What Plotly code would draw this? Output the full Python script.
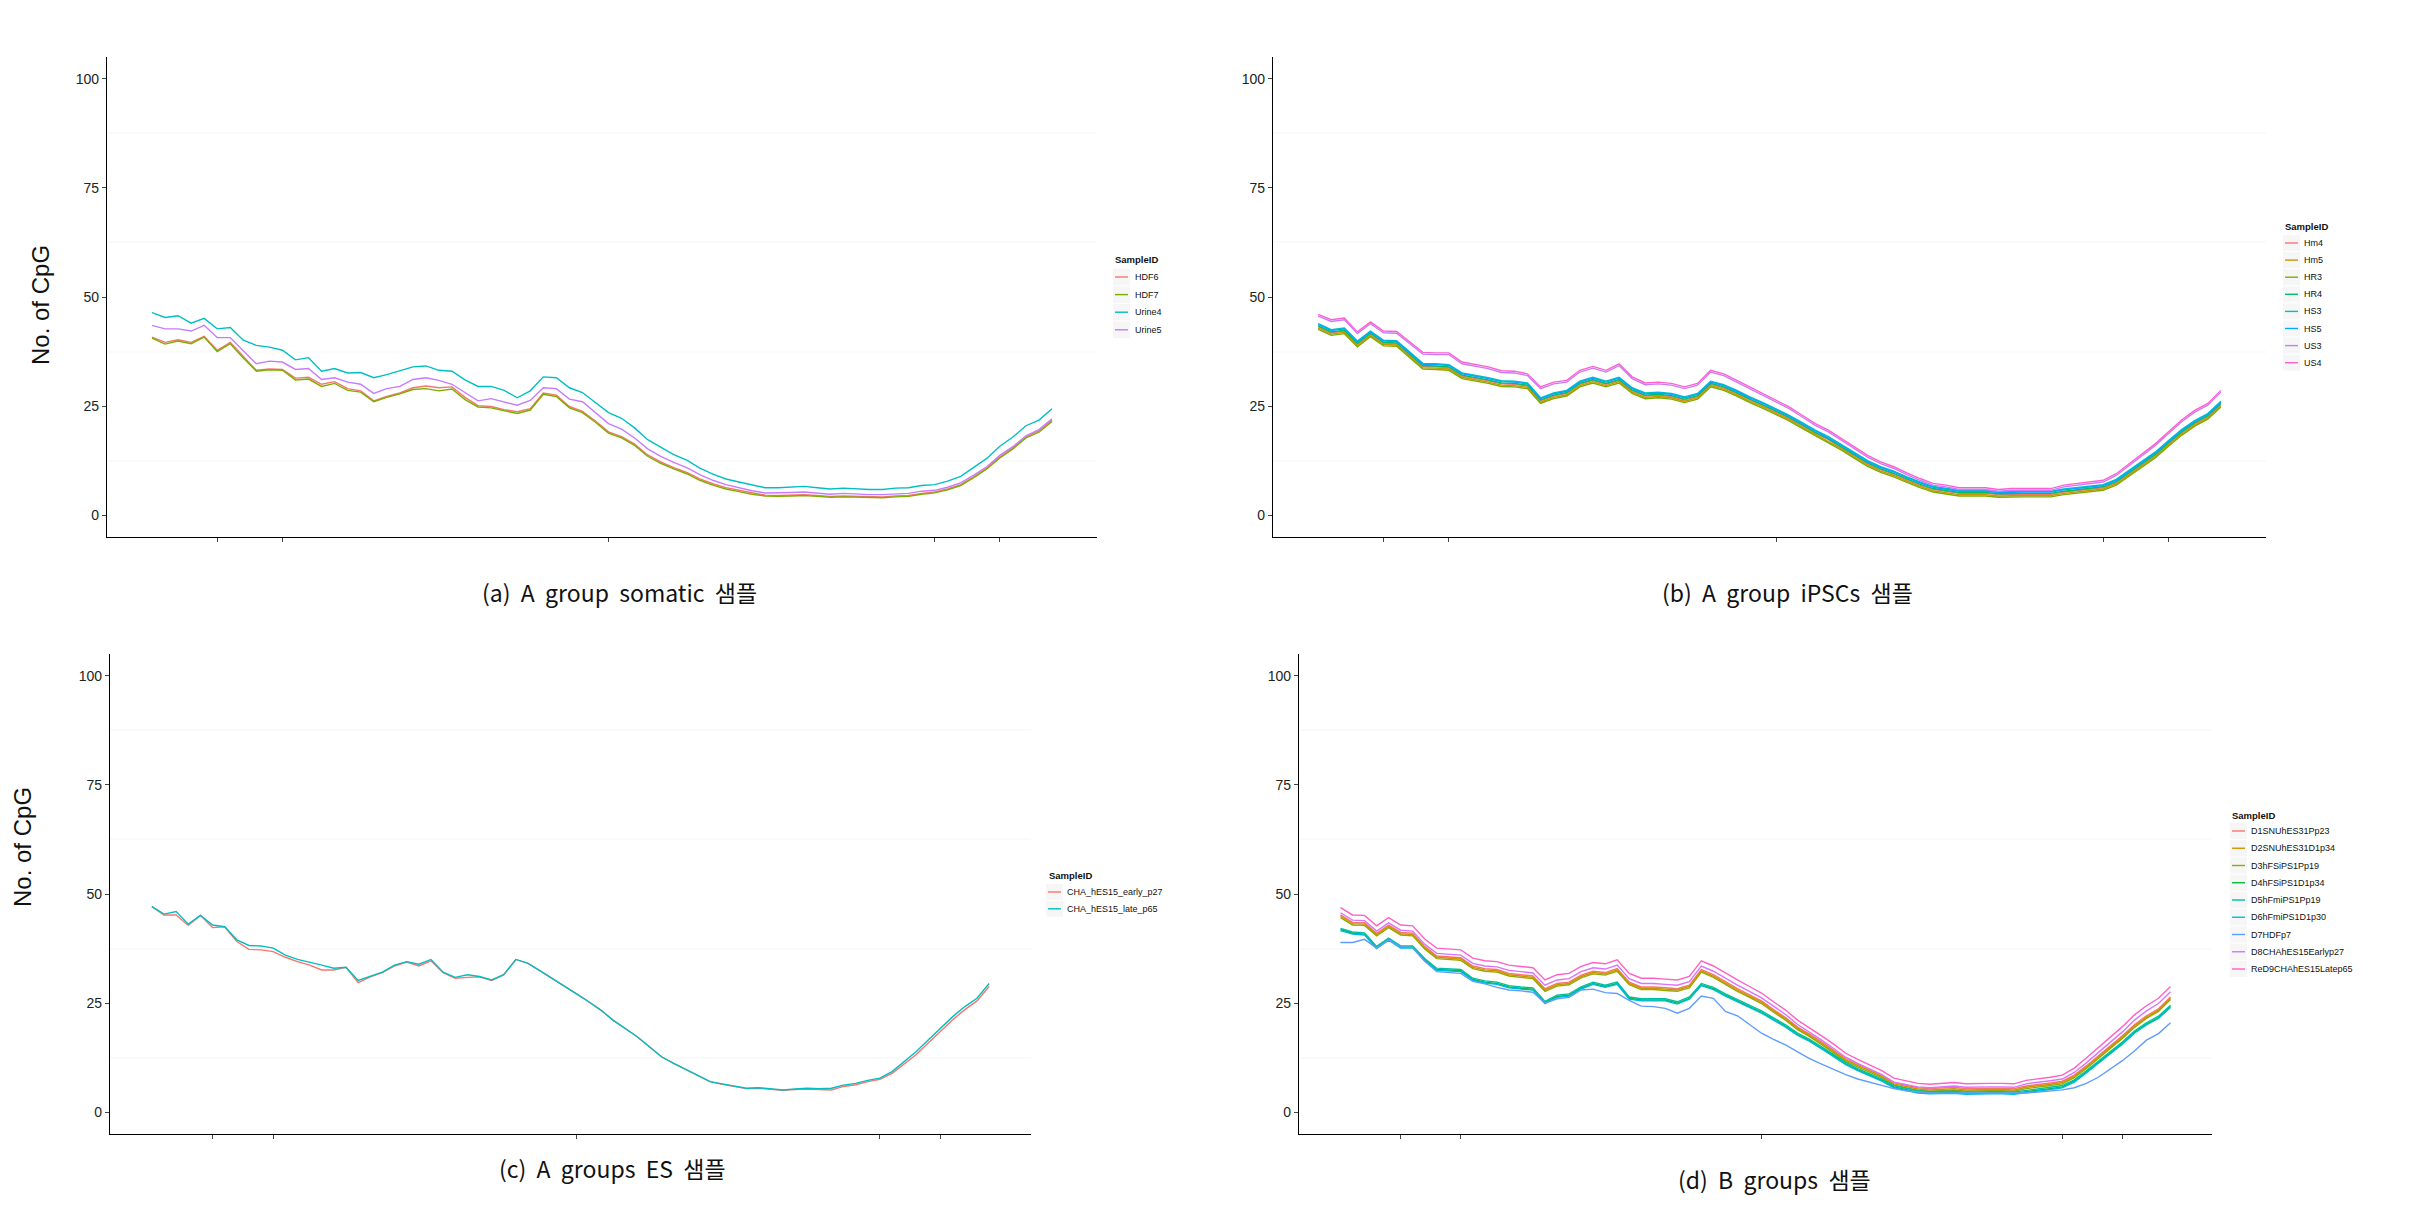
import plotly.graph_objects as go

PAGE_W, PAGE_H = 2423, 1207
OFF = 8                      # default body margin of the html page
W, H = PAGE_W - 2 * OFF, PAGE_H - 2 * OFF

# ---------------- data ----------------
x_index = list(range(70))
x_tick_positions = [5, 10, 35, 60, 65]
y_tick_values = [0, 25, 50, 75, 100]
y_tick_labels = ["0", "25", "50", "75", "100"]
y_minor_grid = [12.5, 37.5, 62.5, 87.5]

# (a) A group somatic
a_names = ["HDF6", "HDF7", "Urine4", "Urine5"]
a_HDF6 = [40.8,39.6,40.2,39.6,41.0,37.8,39.6,36.5,33.2,33.5,33.4,31.4,31.6,30.0,30.6,29.0,28.5,26.2,27.2,28.0,29.2,29.6,29.2,29.4,27.0,25.1,24.9,24.2,23.7,24.4,28.0,27.5,24.9,23.8,21.6,19.1,18.0,16.3,13.8,12.2,10.9,9.8,8.3,7.2,6.3,5.7,5.1,4.6,4.5,4.6,4.7,4.5,4.3,4.4,4.3,4.2,4.2,4.4,4.5,5.0,5.3,6.0,7.0,8.8,10.8,13.3,15.4,17.9,19.3,21.8]
a_HDF7 = [40.6,39.2,39.9,39.3,40.8,37.5,39.3,36.0,33.0,33.3,33.2,31.0,31.2,29.5,30.2,28.6,28.2,26.0,27.0,27.8,28.8,29.0,28.5,28.9,26.5,24.8,24.6,24.0,23.3,24.1,27.7,27.2,24.6,23.5,21.3,18.8,17.7,16.0,13.5,11.9,10.6,9.5,8.0,6.9,6.0,5.4,4.8,4.4,4.3,4.4,4.5,4.3,4.1,4.2,4.1,4.0,4.0,4.2,4.3,4.8,5.1,5.8,6.8,8.6,10.6,13.1,15.2,17.7,19.0,21.5]
a_Urine4 = [46.4,45.3,45.7,44.0,45.1,42.7,43.0,40.1,38.9,38.5,37.8,35.6,36.1,33.0,33.6,32.6,32.7,31.5,32.2,33.1,34.0,34.2,33.2,33.0,31.0,29.5,29.5,28.6,26.9,28.5,31.7,31.5,29.2,28.1,25.9,23.5,22.2,20.0,17.3,15.5,13.9,12.6,10.8,9.4,8.3,7.6,6.9,6.3,6.3,6.4,6.6,6.3,6.0,6.2,6.0,5.9,5.9,6.2,6.3,6.8,7.0,7.8,8.9,10.9,13.0,15.8,17.9,20.5,21.8,24.4]
a_Urine5 = [43.5,42.7,42.7,42.2,43.5,40.7,40.7,37.8,34.7,35.3,35.1,33.4,33.6,31.1,31.5,30.5,30.0,27.9,29.0,29.5,31.1,31.5,30.9,30.0,28.0,26.2,26.7,26.0,25.2,26.3,29.2,29.0,26.6,26.0,23.6,21.0,19.7,17.7,15.2,13.5,12.1,10.9,9.3,8.0,7.0,6.3,5.6,5.1,5.1,5.2,5.3,5.1,4.8,5.0,4.8,4.7,4.7,4.9,5.0,5.5,5.7,6.4,7.4,9.2,11.1,13.7,15.7,18.2,19.6,22.1]

# (b) A group iPSCs
b_names = ["Hm4", "Hm5", "HR3", "HR4", "HS3", "HS5", "US3", "US4"]
b_Hm4 = [43.2,41.8,42.2,39.2,41.5,39.4,39.3,36.7,34.1,34.0,33.8,31.9,31.4,30.8,30.1,30.0,29.6,26.2,27.3,27.9,30.0,30.9,30.0,30.9,28.5,27.3,27.5,27.2,26.4,27.2,30.0,29.2,27.9,26.4,25.1,23.6,22.2,20.5,18.8,17.3,15.5,13.6,11.8,10.4,9.4,8.1,6.9,5.9,5.5,5.0,5.0,5.0,4.7,4.8,4.8,4.8,4.8,5.3,5.6,5.9,6.3,7.5,9.6,11.7,13.8,16.4,18.9,21.0,22.6,25.4]
b_Hm5 = [42.9,41.5,41.9,38.9,41.2,39.1,39.0,36.4,33.8,33.7,33.5,31.6,31.1,30.5,29.8,29.7,29.3,25.9,27.0,27.6,29.7,30.6,29.7,30.6,28.2,27.0,27.2,26.9,26.1,26.9,29.7,28.9,27.6,26.1,24.8,23.3,21.9,20.2,18.5,17.0,15.2,13.3,11.5,10.1,9.1,7.8,6.6,5.6,5.2,4.7,4.7,4.7,4.4,4.5,4.5,4.5,4.5,5.0,5.3,5.6,6.0,7.2,9.3,11.4,13.5,16.1,18.6,20.7,22.3,25.1]
b_HR3 = [42.6,41.2,41.6,38.6,40.9,38.8,38.7,36.1,33.5,33.4,33.2,31.3,30.8,30.2,29.5,29.4,29.0,25.6,26.7,27.3,29.4,30.3,29.4,30.3,27.9,26.7,26.9,26.6,25.8,26.6,29.4,28.6,27.3,25.8,24.5,23.0,21.6,19.9,18.2,16.7,14.9,13.0,11.2,9.8,8.8,7.5,6.3,5.3,4.9,4.4,4.4,4.4,4.1,4.2,4.2,4.2,4.2,4.7,5.0,5.3,5.7,6.9,9.0,11.1,13.2,15.8,18.3,20.4,22.0,24.8]
b_HR4 = [43.4,42.0,42.4,39.4,41.7,39.6,39.5,36.9,34.3,34.2,34.0,32.1,31.6,31.0,30.3,30.2,29.8,26.4,27.5,28.1,30.2,31.1,30.2,31.1,28.7,27.5,27.7,27.4,26.6,27.4,30.2,29.4,28.1,26.6,25.3,23.8,22.4,20.7,19.0,17.5,15.7,13.8,12.0,10.6,9.6,8.3,7.1,6.1,5.7,5.2,5.2,5.2,4.9,5.0,5.0,5.0,5.0,5.5,5.8,6.1,6.5,7.7,9.8,11.9,14.0,16.6,19.1,21.2,22.8,25.6]
b_HS3 = [43.9,42.5,42.9,39.9,42.2,40.1,40.0,37.4,34.8,34.7,34.5,32.6,32.1,31.5,30.8,30.7,30.3,26.9,28.0,28.6,30.7,31.6,30.7,31.6,29.2,28.0,28.2,27.9,27.1,27.9,30.7,29.9,28.6,27.1,25.8,24.3,22.9,21.2,19.5,18.0,16.2,14.3,12.5,11.1,10.1,8.8,7.6,6.6,6.2,5.7,5.7,5.7,5.4,5.5,5.5,5.5,5.5,6.0,6.3,6.6,7.0,8.2,10.3,12.4,14.5,17.1,19.6,21.7,23.3,26.1]
b_HS5 = [43.7,42.3,42.7,39.7,42.0,39.9,39.8,37.2,34.6,34.5,34.3,32.4,31.9,31.3,30.6,30.5,30.1,26.7,27.8,28.4,30.5,31.4,30.5,31.4,29.0,27.8,28.0,27.7,26.9,27.7,30.5,29.7,28.4,26.9,25.6,24.1,22.7,21.0,19.3,17.8,16.0,14.1,12.3,10.9,9.9,8.6,7.4,6.4,6.0,5.5,5.5,5.5,5.2,5.3,5.3,5.3,5.3,5.8,6.1,6.4,6.8,8.0,10.1,12.2,14.3,16.9,19.4,21.5,23.1,25.9]
b_US3 = [45.6,44.4,44.8,41.6,43.9,41.8,41.7,39.3,36.9,36.8,36.8,34.7,34.2,33.6,32.7,32.6,32.0,29.0,30.1,30.5,32.8,33.7,32.8,34.3,31.3,29.9,30.1,29.8,29.0,29.8,32.8,32.0,30.5,29.0,27.5,25.9,24.4,22.5,20.6,19.1,17.2,15.2,13.3,11.8,10.7,9.3,8.0,6.9,6.5,5.9,5.9,5.9,5.5,5.7,5.7,5.7,5.7,6.5,6.9,7.2,7.6,9.1,11.4,13.7,16.0,18.7,21.4,23.6,25.2,28.2]
b_US4 = [46.0,44.8,45.2,42.0,44.3,42.2,42.1,39.7,37.3,37.2,37.2,35.1,34.6,34.0,33.1,33.0,32.4,29.4,30.5,30.9,33.2,34.1,33.2,34.7,31.7,30.3,30.5,30.2,29.4,30.2,33.2,32.4,30.9,29.4,27.9,26.3,24.8,22.9,21.0,19.5,17.6,15.6,13.7,12.2,11.1,9.7,8.4,7.3,6.9,6.3,6.3,6.3,5.9,6.1,6.1,6.1,6.1,6.9,7.3,7.6,8.0,9.5,11.8,14.1,16.4,19.1,21.8,24.0,25.6,28.6]

# (c) A groups ES
c_names = ["CHA_hES15_early_p27", "CHA_hES15_late_p65"]
c_early_p27 = [47.1,45.2,45.2,42.8,45.1,42.3,42.5,39.1,37.3,37.2,36.8,35.5,34.5,33.7,32.6,32.6,33.2,29.7,31.0,32.0,33.5,34.4,33.5,34.7,32.0,30.7,30.9,31.0,30.2,31.5,35.0,34.1,32.4,30.7,28.8,27.1,25.3,23.4,21.1,19.2,17.3,15.0,12.7,11.2,9.8,8.5,7.0,6.4,5.9,5.4,5.5,5.3,5.0,5.2,5.3,5.2,5.1,5.9,6.3,7.0,7.5,8.9,11.0,13.2,15.9,18.5,21.2,23.5,25.5,28.8]
c_late_p65 = [47.1,45.4,46.0,43.1,45.1,42.9,42.5,39.5,38.2,38.1,37.6,36.0,35.0,34.4,33.7,33.0,33.2,30.2,31.2,32.1,33.7,34.5,33.9,35.0,32.1,30.9,31.5,31.1,30.3,31.5,35.0,34.1,32.4,30.7,28.8,27.1,25.3,23.4,21.1,19.2,17.3,15.0,12.7,11.2,9.8,8.5,7.0,6.5,6.0,5.5,5.6,5.4,5.1,5.3,5.5,5.4,5.5,6.2,6.6,7.3,7.8,9.3,11.6,13.9,16.6,19.2,21.9,24.2,26.1,29.5]

# (d) B groups
d_names = ["D1SNUhES31Pp23", "D2SNUhES31D1p34", "D3hFSiPS1Pp19", "D4hFSiPS1D1p34",
           "D5hFmiPS1Pp19", "D6hFmiPS1D1p30", "D7HDFp7", "D8CHAhES15Earlyp27", "ReD9CHAhES15Latep65"]
d_D1 = [45.2,43.5,43.4,41.0,42.9,41.2,41.0,38.0,35.8,35.6,35.4,33.5,32.9,32.7,31.8,31.5,31.2,28.3,29.5,29.8,31.4,32.3,32.0,32.9,29.8,28.7,28.7,28.5,28.3,29.1,32.7,31.5,29.8,28.3,26.9,25.5,23.5,21.7,19.5,17.9,16.1,14.3,12.3,11.0,9.7,8.5,6.8,6.2,5.6,5.4,5.5,5.7,5.4,5.5,5.5,5.5,5.4,6.0,6.3,6.7,7.1,8.5,10.6,12.8,15.2,17.5,20.0,22.1,23.7,26.4]
d_D2 = [44.9,43.2,43.1,40.7,42.6,40.9,40.7,37.7,35.5,35.3,35.1,33.2,32.6,32.4,31.5,31.2,30.9,28.0,29.2,29.5,31.1,32.0,31.7,32.6,29.5,28.4,28.4,28.2,28.0,28.8,32.4,31.2,29.5,28.0,26.6,25.2,23.2,21.4,19.2,17.6,15.8,14.0,12.0,10.7,9.4,8.2,6.5,5.9,5.3,5.1,5.2,5.4,5.1,5.2,5.2,5.2,5.1,5.7,6.0,6.4,6.8,8.2,10.3,12.5,14.9,17.2,19.7,21.8,23.4,26.1]
d_D3 = [44.6,42.9,42.8,40.4,42.3,40.6,40.4,37.4,35.2,35.0,34.8,32.9,32.3,32.1,31.2,30.9,30.6,27.7,28.9,29.2,30.8,31.7,31.4,32.3,29.2,28.1,28.1,27.9,27.7,28.5,32.1,30.9,29.2,27.7,26.3,24.9,22.9,21.1,18.9,17.3,15.5,13.7,11.7,10.4,9.1,7.9,6.2,5.6,5.0,4.8,4.9,5.1,4.8,4.9,4.9,4.9,4.8,5.4,5.7,6.1,6.5,7.9,10.0,12.2,14.6,16.9,19.4,21.5,23.1,25.8]
d_D4 = [41.8,41.0,40.8,37.7,39.6,37.8,37.8,34.9,32.7,32.6,32.4,30.4,29.8,29.5,28.7,28.4,28.2,25.1,26.5,26.8,28.4,29.5,28.8,29.5,26.1,25.7,25.7,25.7,25.0,26.1,29.2,28.3,26.8,25.5,24.2,22.9,21.3,19.7,17.8,16.4,14.7,13.0,11.1,9.7,8.5,7.3,5.8,5.2,4.6,4.4,4.4,4.5,4.3,4.4,4.4,4.4,4.3,4.7,5.0,5.4,5.8,7.1,9.2,11.3,13.6,15.8,18.3,20.2,21.7,24.2]
d_D5 = [42.1,41.3,41.1,38.0,39.9,38.1,38.1,35.2,33.0,32.9,32.7,30.7,30.1,29.8,29.0,28.7,28.5,25.4,26.8,27.1,28.7,29.8,29.1,29.8,26.4,26.0,26.0,26.0,25.3,26.4,29.5,28.6,27.1,25.8,24.5,23.2,21.6,20.0,18.1,16.7,15.0,13.3,11.4,10.0,8.8,7.6,6.1,5.5,4.9,4.7,4.7,4.8,4.6,4.7,4.7,4.7,4.6,5.0,5.3,5.7,6.1,7.4,9.5,11.6,13.9,16.1,18.6,20.5,22.0,24.5]
d_D6 = [41.6,40.8,40.6,37.5,39.4,37.6,37.6,34.7,32.5,32.4,32.2,30.2,29.6,29.3,28.5,28.2,28.0,24.9,26.3,26.6,28.2,29.3,28.6,29.3,25.9,25.5,25.5,25.5,24.8,25.9,29.0,28.1,26.6,25.3,24.0,22.7,21.1,19.5,17.6,16.2,14.5,12.8,10.9,9.5,8.3,7.1,5.6,5.0,4.4,4.2,4.2,4.3,4.1,4.2,4.2,4.2,4.1,4.5,4.8,5.2,5.6,6.9,9.0,11.1,13.4,15.6,18.1,20.0,21.5,24.0]
d_D7 = [38.9,38.9,39.6,37.6,39.5,37.9,37.7,34.6,32.2,32.0,31.8,30.0,29.4,28.6,28.0,27.8,27.5,25.0,26.0,26.3,28.0,28.2,27.4,27.2,25.6,24.3,24.2,23.8,22.7,23.8,26.6,26.1,23.1,22.1,20.2,18.1,16.7,15.4,13.8,12.3,11.0,9.8,8.6,7.6,6.9,6.2,5.4,4.9,4.6,4.4,4.4,4.4,4.3,4.3,4.3,4.3,4.3,4.4,4.6,4.8,5.1,5.6,6.6,8.0,9.8,11.8,14.0,16.5,18.0,20.5]
d_D8 = [45.7,44.0,43.9,41.5,43.4,41.7,41.5,38.5,36.4,36.2,36.0,34.1,33.5,33.3,32.5,32.2,31.9,29.1,30.3,30.6,32.2,33.1,32.8,33.7,30.6,29.5,29.5,29.3,29.1,29.9,33.5,32.3,30.6,29.1,27.7,26.2,24.3,22.4,20.1,18.4,16.5,14.6,12.6,11.2,9.9,8.6,6.9,6.4,5.8,5.6,5.8,6.0,5.7,5.8,5.8,5.8,5.7,6.5,6.8,7.2,7.6,9.1,11.3,13.6,16.1,18.4,21.1,23.2,24.9,27.6]
d_ReD9 = [46.9,45.2,45.1,42.7,44.6,42.9,42.7,39.7,37.6,37.4,37.2,35.3,34.7,34.5,33.7,33.4,33.1,30.3,31.5,31.8,33.4,34.3,34.0,34.9,31.8,30.7,30.7,30.5,30.3,31.1,34.7,33.5,31.8,30.3,28.8,27.3,25.3,23.4,21.1,19.4,17.5,15.6,13.5,12.1,10.8,9.5,7.8,7.2,6.6,6.4,6.6,6.8,6.5,6.6,6.6,6.6,6.5,7.3,7.6,8.0,8.5,10.1,12.4,14.7,17.2,19.6,22.3,24.4,26.1,28.8]

captions = ["(a)\u00a0 A\u00a0 group\u00a0 somatic\u00a0 샘플",
            "(b)\u00a0 A\u00a0 group\u00a0 iPSCs\u00a0 샘플",
            "(c)\u00a0 A\u00a0 groups\u00a0 ES\u00a0 샘플",
            "(d)\u00a0 B\u00a0 groups\u00a0 샘플"]
y_title = "No. of CpG"
legend_title = "SampleID"

# ---------------- styling ----------------
pal4 = ["#F8766D", "#7CAE00", "#00BFC4", "#C77CFF"]
pal8 = ["#F8766D", "#CD9600", "#7CAE00", "#00BE67", "#00BFC4", "#00A9FF", "#C77CFF", "#FF61CC"]
pal2 = ["#F8766D", "#00BFC4"]
pal9 = ["#F8766D", "#D39200", "#93AA00", "#00BA38", "#00C19F", "#00B9E3", "#619CFF", "#DB72FB", "#FF61C3"]

# page-pixel layout: plot box (x0, x1, y0, y1); legend (title x, title y, first item y, step, key x0, key x1, text x)
panels = [
    dict(names=a_names, series=[a_HDF6, a_HDF7, a_Urine4, a_Urine5], pal=pal4,
         box=(107, 1097, 57, 537), leg=(1113, 260, 277, 17.6, 1115, 1128, 1133),
         cap=(619, 592), ytitle=(40, 305)),
    dict(names=b_names, series=[b_Hm4, b_Hm5, b_HR3, b_HR4, b_HS3, b_HS5, b_US3, b_US4], pal=pal8,
         box=(1273, 2266, 57, 537), leg=(2283, 226, 243, 17.1, 2285, 2298, 2302),
         cap=(1787, 592), ytitle=None),
    dict(names=c_names, series=[c_early_p27, c_late_p65], pal=pal2,
         box=(110, 1031, 654, 1134), leg=(1047, 875, 892, 16.8, 1048, 1061, 1065),
         cap=(612, 1168), ytitle=(22, 847)),
    dict(names=d_names, series=[d_D1, d_D2, d_D3, d_D4, d_D5, d_D6, d_D7, d_D8, d_ReD9], pal=pal9,
         box=(1299, 2212, 654, 1134), leg=(2230, 815, 831, 17.25, 2232, 2245, 2249),
         cap=(1774, 1179), ytitle=None),
]


def px(xp):
    return (xp - OFF) / W


def py(yp):
    return 1 - (yp - OFF) / H


FONT = "Liberation Sans, Arial, sans-serif"
fig = go.Figure()
layout = dict(width=W, height=H, margin=dict(l=0, r=0, t=0, b=0),
              paper_bgcolor="white", plot_bgcolor="white", showlegend=False,
              font=dict(family=FONT, color="#222"))
annotations = []
shapes = []

for k, p in enumerate(panels):
    n = k + 1
    sfx = "" if n == 1 else str(n)
    for name, vals, col in zip(p["names"], p["series"], p["pal"]):
        fig.add_trace(go.Scatter(x=x_index, y=vals, mode="lines", name=name,
                                 line=dict(color=col, width=1.4),
                                 xaxis=f"x{sfx}", yaxis=f"y{sfx}"))
    x0, x1, y0, y1 = p["box"]
    layout[f"xaxis{sfx}"] = dict(domain=[px(x0), px(x1)], range=[-3.45, 72.45], anchor=f"y{sfx}",
                                 showline=True, linecolor="black", linewidth=1.3,
                                 ticks="outside", ticklen=4, tickwidth=1, tickcolor="#444",
                                 tickmode="array", tickvals=x_tick_positions, showticklabels=False,
                                 showgrid=False, zeroline=False, fixedrange=True)
    layout[f"yaxis{sfx}"] = dict(domain=[py(y1), py(y0)], range=[-5, 105], anchor=f"x{sfx}",
                                 showline=True, linecolor="black", linewidth=1.3,
                                 ticks="outside", ticklen=4, tickwidth=1, tickcolor="#444",
                                 tickmode="array", tickvals=y_tick_values, ticktext=y_tick_labels,
                                 tickfont=dict(size=14, color="#222", family=FONT),
                                 showgrid=False, zeroline=False,
                                 minor=dict(tickmode="array", tickvals=y_minor_grid, showgrid=True,
                                            gridcolor="#fafafa", gridwidth=1.5, ticks=""))
    # legend (ggplot-style, drawn with annotations + key lines)
    tx, ty, iy0, step, kx0, kx1, txt_x = p["leg"]
    annotations.append(dict(text=f"<b>{legend_title}</b>", x=px(tx), y=py(ty), xref="paper", yref="paper",
                            showarrow=False, xanchor="left", yanchor="middle",
                            font=dict(size=9.5, family=FONT, color="#111")))
    for j, (name, col) in enumerate(zip(p["names"], p["pal"])):
        yy = iy0 + j * step
        shapes.append(dict(type="rect", xref="paper", yref="paper",
                           x0=px(kx0 - 2), x1=px(kx1 + 2), y0=py(yy - step / 2 + 0.5), y1=py(yy + step / 2 - 0.5),
                           fillcolor="#f6f6f6", line=dict(width=0), layer="below"))
        shapes.append(dict(type="line", xref="paper", yref="paper",
                           x0=px(kx0), x1=px(kx1), y0=py(yy), y1=py(yy),
                           line=dict(color=col, width=1.4)))
        annotations.append(dict(text=name, x=px(txt_x), y=py(yy), xref="paper", yref="paper",
                                showarrow=False, xanchor="left", yanchor="middle",
                                font=dict(size=9, family=FONT, color="#111")))
    cx, cy = p["cap"]
    annotations.append(dict(text=captions[k], x=px(cx), y=py(cy), xref="paper", yref="paper",
                            showarrow=False, xanchor="center", yanchor="middle",
                            font=dict(size=23, family="Noto Sans CJK KR", color="#111")))
    if p["ytitle"]:
        yx, yy = p["ytitle"]
        annotations.append(dict(text=y_title, x=px(yx), y=py(yy), xref="paper", yref="paper",
                                showarrow=False, textangle=-90, xanchor="center", yanchor="middle",
                                font=dict(size=24, family=FONT, color="#111")))

layout["annotations"] = annotations
layout["shapes"] = shapes
fig.update_layout(**layout)
fig.write_html("out.html")
